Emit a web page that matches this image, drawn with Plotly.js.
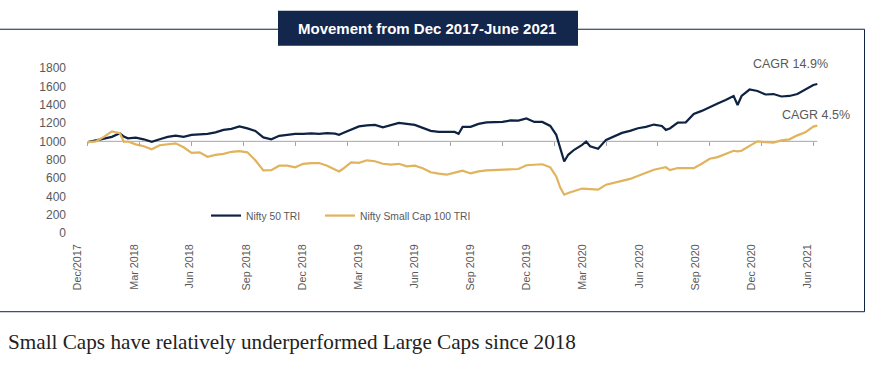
<!DOCTYPE html>
<html><head><meta charset="utf-8">
<script src="https://cdn.plot.ly/plotly-3.0.1.min.js"></script>
<style>html,body{margin:0;padding:0;background:#fff}</style>
</head><body><div id="chart" style="width:870px;height:366px"></div>
<script>
// weeks since 29 Dec 2017
const weeks = [0,2,4,6,8,9,10,12,14,16,18,20,22,24,26,28,30,32,34,36,38,40,42,44,46,48,50,52,54,56,58,60,62,63,64,66,68,70,72,74,76,78,80,82,84,86,88,90,92,93,94,96,98,100,102,104,106,108,110,112,114,116,117.5,118.5,119.5,120.5,122,124,125,126,128,130,132,134,136,138,140,142,144,145,146,148,150,152,154,156,158,160,162,163,164,166,168,170,172,174,176,178,180,182,183];
const nifty50 = [991,1013,1027,1049,1089,1052,1033,1041,1022,995,1022,1049,1062,1049,1071,1076,1082,1098,1125,1136,1163,1141,1114,1043,1022,1060,1071,1082,1082,1087,1082,1089,1084,1071,1092,1125,1163,1174,1179,1152,1179,1201,1190,1179,1147,1114,1103,1103,1103,1082,1158,1158,1190,1207,1207,1212,1228,1226,1250,1212,1212,1168,1071,929,780,853,908,962,998,946,918,1016,1057,1092,1114,1143,1158,1183,1168,1125,1141,1204,1207,1299,1332,1375,1413,1451,1495,1397,1495,1565,1549,1511,1516,1489,1495,1516,1565,1614,1625];
const smallcap100 = [991,1000,1049,1109,1089,995,998,967,946,913,957,970,978,935,875,880,832,853,864,886,893,880,793,683,685,734,734,717,755,763,763,734,696,672,701,770,766,793,783,755,745,755,728,734,707,663,647,636,658,665,679,650,672,683,687,685,690,698,739,745,750,717,617,495,418,437,455,485,482,480,473,527,545,568,590,625,660,690,709,717,687,709,707,707,755,810,828,864,897,890,897,951,1000,991,987,1011,1022,1065,1098,1161,1172];
const seriesNames = ['Nifty 50 TRI','Nifty Small Cap 100 TRI'];
const quarterTicks = [0,13,26,39,52,65,78,91,104,117,130,143,156,169,182];
const labelPos = [-2.5,11.6,25.6,39.7,53.8,67.9,82.0,96.0,110.1,124.2,138.3,152.4,166.4,180.5];
const labelText = ['Dec/2017','Mar 2018','Jun 2018','Sep 2018','Dec 2018','Mar 2019','Jun 2019','Sep 2019','Dec 2019','Mar 2020','Jun 2020','Sep 2020','Dec 2020','Jun 2021'];
const yTicks = [0,200,400,600,800,1000,1200,1400,1600,1800];
const baseLevel = 1000;
const cagrText = ['CAGR 14.9%','CAGR 4.5%'];
const titleText = 'Movement from Dec 2017-June 2021';
const captionText = 'Small Caps have relatively underperformed Large Caps since 2018';

const NAVY = '#0e2242', GOLD = '#e0b35c', GREY = '#595959';
const SANS = 'Liberation Sans, Arial, sans-serif';

// layout geometry (pixels)
const W = 870, H = 366;
const L = 76, R = 24, T = 67.9, B = 132.5;
const pw = W - L - R, ph = H - T - B;
const px = p => (p - L) / pw;        // pixel x -> paper x
const py = p => (H - B - p) / ph;    // pixel y -> paper y
const xRange = [-3, 190.2];
const yRange = [0, 1800];

const traces = [
  {x: weeks, y: nifty50, name: seriesNames[0], type: 'scatter', mode: 'lines',
   line: {color: NAVY, width: 2.2}, xaxis: 'x', yaxis: 'y', legend: 'legend'},
  {x: weeks, y: smallcap100, name: seriesNames[1], type: 'scatter', mode: 'lines',
   line: {color: GOLD, width: 2.2}, xaxis: 'x', yaxis: 'y', legend: 'legend2'},
  // carrier so the label axis is drawn (no visible marks)
  {x: [labelPos[0]], y: [null], type: 'scatter', mode: 'lines', xaxis: 'x2', yaxis: 'y',
   showlegend: false, hoverinfo: 'skip'}
];

const legendCommon = {orientation: 'h', font: {family: SANS, size: 10.3, color: GREY},
  bgcolor: 'rgba(0,0,0,0)', borderwidth: 0, yanchor: 'middle', xanchor: 'left', y: py(216)};

const layout = {
  width: W, height: H, autosize: false,
  margin: {l: L, r: R, t: T, b: B, pad: 0},
  paper_bgcolor: '#fff', plot_bgcolor: 'rgba(0,0,0,0)',
  showlegend: true,
  legend: Object.assign({x: px(206)}, legendCommon),
  legend2: Object.assign({x: px(320)}, legendCommon),
  xaxis: {range: xRange, anchor: 'free', position: (baseLevel - yRange[0]) / (yRange[1] - yRange[0]),
    showgrid: false, zeroline: false, showline: false,
    tickmode: 'array', tickvals: quarterTicks, showticklabels: false,
    ticks: 'outside', ticklen: 4, tickwidth: 1, tickcolor: '#a6a6a6'},
  xaxis2: {range: xRange, overlaying: 'x', anchor: 'y', side: 'bottom',
    showgrid: false, zeroline: false, showline: false, ticks: '',
    tickmode: 'array', tickvals: labelPos, ticktext: labelText, tickangle: -90,
    ticklabelstandoff: 8,
    tickfont: {family: SANS, size: 10.8, color: GREY}},
  yaxis: {range: yRange, showgrid: false, zeroline: false, showline: false, ticks: '',
    tickmode: 'array', tickvals: yTicks, ticklabelstandoff: 9,
    tickfont: {family: SANS, size: 12, color: GREY}},
  shapes: [
    {type: 'line', xref: 'x', yref: 'y', x0: weeks[0], x1: weeks[weeks.length - 1], y0: baseLevel, y1: baseLevel,
     line: {color: '#a6a6a6', width: 1}, layer: 'below'},
    {type: 'line', xref: 'paper', yref: 'paper', x0: px(0), x1: px(278), y0: py(29), y1: py(29), line: {color: NAVY, width: 1}},
    {type: 'line', xref: 'paper', yref: 'paper', x0: px(578), x1: px(864.5), y0: py(29), y1: py(29), line: {color: NAVY, width: 1}},
    {type: 'line', xref: 'paper', yref: 'paper', x0: px(864.5), x1: px(864.5), y0: py(29), y1: py(312.5), line: {color: NAVY, width: 1}},
    {type: 'line', xref: 'paper', yref: 'paper', x0: px(0), x1: px(864.5), y0: py(312.5), y1: py(312.5), line: {color: NAVY, width: 1}},
    {type: 'rect', xref: 'paper', yref: 'paper', x0: px(278), x1: px(578), y0: py(10.5), y1: py(45.5), fillcolor: '#13264b', line: {width: 0}}
  ],
  annotations: [
    {xref: 'paper', yref: 'paper', x: px(427), y: py(28), text: '<b>' + titleText + '</b>', showarrow: false,
     xanchor: 'center', yanchor: 'middle', font: {family: SANS, size: 15, color: '#ffffff'}},
    {xref: 'paper', yref: 'paper', x: px(790), y: py(63.5), text: cagrText[0], showarrow: false,
     xanchor: 'center', yanchor: 'middle', font: {family: SANS, size: 12.5, color: GREY}},
    {xref: 'paper', yref: 'paper', x: px(816), y: py(115), text: cagrText[1], showarrow: false,
     xanchor: 'center', yanchor: 'middle', font: {family: SANS, size: 12.5, color: GREY}},
    {xref: 'paper', yref: 'paper', x: px(6), y: py(343), text: captionText, showarrow: false,
     xanchor: 'left', yanchor: 'middle', font: {family: 'Liberation Serif, DejaVu Serif, serif', size: 21.2, color: '#222222'}}
  ]
};

Plotly.newPlot('chart', traces, layout, {displayModeBar: false, staticPlot: true});
</script>
</body></html>
